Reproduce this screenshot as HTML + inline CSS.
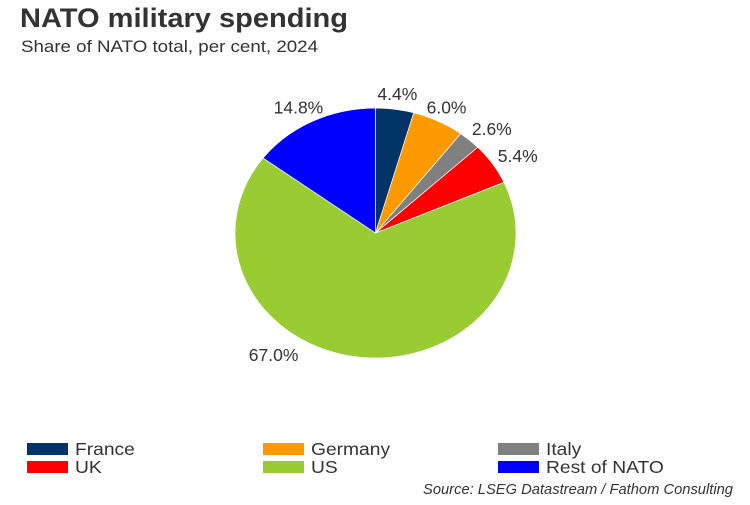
<!DOCTYPE html>
<html><head><meta charset="utf-8"><style>
body{margin:0;background:#fff;font-family:"Liberation Sans",Arial,sans-serif}
svg text{font-family:"Liberation Sans",Arial,sans-serif}
</style></head><body>
<svg id="c" width="750" height="500">
<text x="20" y="27" font-size="27" font-weight="bold" fill="#333" textLength="328" lengthAdjust="spacingAndGlyphs">NATO military spending</text>
<text x="21" y="52" font-size="17" fill="#333" textLength="297" lengthAdjust="spacingAndGlyphs">Share of NATO total, per cent, 2024</text>
<g id="pie"></g>
<g id="legend"></g>
<text x="733" y="494" font-size="14.5" font-style="italic" fill="#333" text-anchor="end" textLength="310" lengthAdjust="spacingAndGlyphs">Source: LSEG Datastream / Fathom Consulting</text>
</svg>
<script>
const categories=["France","Germany","Italy","UK","US","Rest of NATO"];
const values=[4.4,6.0,2.6,5.4,67.0,14.8];
const colors=["#003366","#ff9900","#808080","#ff0000","#99cc33","#0000ff"];
const NS="http://www.w3.org/2000/svg";
const cx=375.5,cy=233,rx=140.5,ry=125;
const pie=document.getElementById('pie');
const total=values.reduce((a,b)=>a+b,0);
function pt(a,f){return [cx+rx*f*Math.sin(a),cy-ry*f*Math.cos(a)];}
let acc=0;
values.forEach((v,i)=>{
  const a0=acc/total*2*Math.PI; acc+=v; const a1=acc/total*2*Math.PI;
  const p0=pt(a0,1),p1=pt(a1,1);
  const large=(a1-a0)>Math.PI?1:0;
  const p=document.createElementNS(NS,'path');
  p.setAttribute('d',`M${cx},${cy}L${p0[0]},${p0[1]}A${rx},${ry} 0 ${large} 1 ${p1[0]},${p1[1]}Z`);
  p.setAttribute('fill',colors[i]);
  p.setAttribute('stroke','#fff');p.setAttribute('stroke-width','0.7');
  
  
  pie.appendChild(p);
  const am=(a0+a1)/2;
  let lp=pt(am,1.13);
  if(v>50){lp=pt(am+0.53,1.21);}
  const t=document.createElementNS(NS,'text');
  t.setAttribute('x',lp[0]+(Math.sin(am)>0.6?10:0)-(Math.sin(am)<-0.3?6:0));t.setAttribute('y',lp[1]+7);
  t.setAttribute('text-anchor','middle');t.setAttribute('font-size','17.5');t.setAttribute('fill','#333');
  t.textContent=v.toFixed(1)+'%';
  
  
  pie.appendChild(t);
});
const lg=document.getElementById('legend');
const lx=[27,263,498],ly=[443,461];
categories.forEach((c,i)=>{
  const x=lx[i%3],y=ly[Math.floor(i/3)];
  const g=document.createElementNS(NS,'g');
  
  
  const r=document.createElementNS(NS,'rect');
  r.setAttribute('x',x);r.setAttribute('y',y);r.setAttribute('width',41);r.setAttribute('height',12);r.setAttribute('fill',colors[i]);
  
  
  const t=document.createElementNS(NS,'text');
  t.setAttribute('x',x+48);t.setAttribute('y',y+12);t.setAttribute('font-size','17.5');t.setAttribute('fill','#333');
  t.setAttribute('transform',`translate(${x+48},0) scale(1.1,1) translate(${-(x+48)},0)`);
  t.textContent=c;
  
  
  g.appendChild(r);g.appendChild(t);lg.appendChild(g);
});
</script>
</body></html>
